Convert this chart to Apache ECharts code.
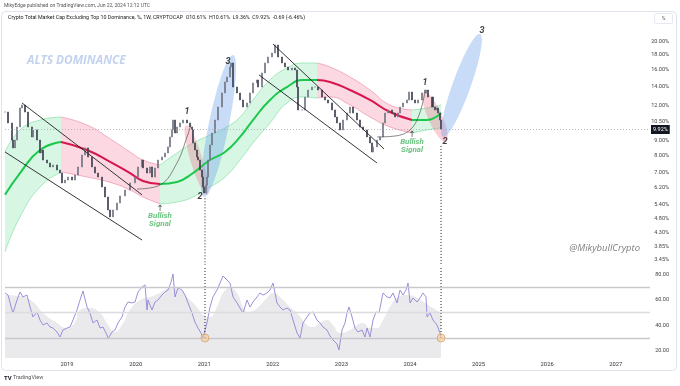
<!DOCTYPE html>
<html><head><meta charset="utf-8">
<script src="https://cdn.jsdelivr.net/npm/echarts@6/dist/echarts.min.js"></script>
<style>html,body{margin:0;padding:0;background:#fff}#c{width:680px;height:386px}</style>
</head><body><div id="c"></div>
<script>
// ---------- DATA ----------
const priceTime = [2018.095,2018.139,2018.197,2018.212,2018.241,2018.270,2018.314,2018.343,2018.387,2018.430,
2018.489,2018.503,2018.562,2018.605,2018.635,2018.649,2018.707,2018.751,2018.795,2018.853,
2018.897,2018.926,2018.970,2019.014,2019.072,2019.116,2019.159,2019.218,2019.262,2019.305,
2019.364,2019.407,2019.451,2019.509,2019.553,2019.597,2019.626,2019.670,2019.728,2019.772,
2019.845,2019.918,2019.991,2020.035,2020.093,2020.107,2020.166,2020.209,2020.238,2020.282,
2020.326,2020.384,2020.428,2020.472,2020.501,2020.530,2020.545,2020.574,2020.603,2020.647,
2020.691,2020.749,2020.793,2020.822,2020.836,2020.865,2020.895,2020.909,2020.938,2020.968,
2020.982,2020.997,2021.026,2021.040,2021.055,2021.084,2021.113,2021.157,2021.201,2021.259,
2021.303,2021.332,2021.376,2021.391,2021.420,2021.478,2021.522,2021.566,2021.624,2021.668,
2021.711,2021.770,2021.784,2021.843,2021.886,2021.930,2021.988,2022.032,2022.076,2022.134,
2022.178,2022.222,2022.280,2022.324,2022.353,2022.367,2022.426,2022.469,2022.513,2022.571,
2022.615,2022.659,2022.717,2022.761,2022.805,2022.863,2022.907,2022.936,2022.980,2023.024,
2023.082,2023.126,2023.169,2023.228,2023.272,2023.315,2023.374,2023.417,2023.447,2023.461,
2023.519,2023.563,2023.607,2023.636,2023.680,2023.738,2023.782,2023.826,2023.855,2023.899,
2023.957,2023.986,2024.030,2024.074,2024.117,2024.176,2024.220,2024.263,2024.322,2024.365,
2024.394,2024.409,2024.438,2024.453];
const priceClose = [11.37,10.41,9.07,8.51,9.07,10.08,11.75,12.03,11.37,10.08,
9.30,9.84,9.07,8.17,8.37,7.72,7.54,7.30,7.42,7.12,
6.95,6.42,6.57,6.73,6.57,6.84,7.30,8.04,8.51,7.91,
7.30,6.95,6.73,6.21,5.73,5.16,4.88,5.16,5.46,5.78,
6.06,6.42,6.73,7.30,7.72,7.24,6.95,7.30,6.73,7.24,
7.72,7.91,8.17,8.58,9.30,9.84,10.66,9.60,10.08,10.41,
10.66,10.41,10.08,9.84,8.86,8.37,7.91,7.72,7.12,6.73,
6.21,5.92,6.31,6.73,7.72,8.72,9.60,10.66,11.84,13.26,
14.49,15.08,16.35,16.89,13.91,13.26,12.53,11.84,12.23,13.26,
14.37,14.72,13.91,15.58,16.89,17.72,18.30,19.52,17.72,16.89,
16.35,15.96,16.22,15.96,13.91,11.56,11.56,12.83,13.58,13.91,
13.91,13.58,12.83,12.53,12.23,11.56,10.92,10.41,9.84,10.66,
11.28,11.84,11.28,10.66,10.08,9.84,9.30,8.86,8.24,8.58,
9.07,9.30,10.41,11.28,11.56,11.28,10.92,11.28,11.84,12.23,
12.53,13.36,12.53,12.23,12.53,13.26,13.58,12.83,11.84,11.56,
11.75,11.28,10.66,9.92];
const lastClose = 9.92;

const channelTime  = [2018.095,2018.314,2018.605,2018.912,2019.291,2019.655,2019.918,2020.107,2020.355,2020.603,2020.836,2021.084,2021.303,2021.522,2021.711,2021.959,2022.207,2022.440,2022.645,2022.834,2023.126,2023.417,2023.709,2024.030,2024.249,2024.453];
const channelUpper = [8.24,9.84,10.66,10.92,10.24,9.07,8.24,7.72,7.42,8.17,8.86,9.45,10.00,10.92,12.53,14.72,16.22,16.89,16.89,16.35,15.08,13.58,12.03,11.56,11.75,12.03];
const channelMid   = [5.83,6.95,8.37,8.93,8.37,7.54,6.95,6.52,6.36,6.47,6.95,7.72,8.24,9.30,10.66,12.53,13.91,14.72,14.72,14.49,13.58,12.53,11.37,10.66,10.66,11.28];
const channelLower = [3.68,4.88,6.21,7.01,6.73,6.42,6.06,5.73,5.42,5.50,5.73,6.21,6.73,7.72,8.86,10.41,12.23,12.83,12.73,12.83,12.03,10.92,10.08,9.60,9.84,10.00];
const channelTurns = [2018.912,2020.355,2022.645,2024.030]; // trend flips: up, down, up, down, up

const rsiTime = [2018.095,2018.139,2018.197,2018.212,2018.270,2018.314,2018.357,2018.416,2018.460,2018.503,
2018.562,2018.605,2018.649,2018.707,2018.751,2018.795,2018.853,2018.897,2018.941,2018.999,
2019.043,2019.087,2019.145,2019.189,2019.232,2019.291,2019.334,2019.378,2019.437,2019.480,
2019.524,2019.582,2019.597,2019.655,2019.699,2019.743,2019.801,2019.845,2019.889,2019.947,
2019.991,2020.035,2020.093,2020.137,2020.166,2020.180,2020.238,2020.282,2020.326,2020.384,
2020.428,2020.472,2020.516,2020.545,2020.574,2020.618,2020.676,2020.720,2020.764,2020.822,
2020.865,2020.909,2020.953,2020.982,2020.997,2021.040,2021.084,2021.128,2021.186,2021.230,
2021.274,2021.332,2021.376,2021.420,2021.478,2021.522,2021.566,2021.624,2021.668,2021.711,
2021.770,2021.813,2021.857,2021.915,2021.959,2022.003,2022.061,2022.105,2022.149,2022.207,
2022.251,2022.295,2022.353,2022.397,2022.440,2022.499,2022.542,2022.586,2022.644,2022.688,
2022.732,2022.790,2022.834,2022.878,2022.936,2022.965,2023.009,2023.053,2023.082,2023.111,
2023.155,2023.198,2023.242,2023.301,2023.344,2023.374,2023.417,2023.461,2023.505,2023.549,
2023.607,2023.665,2023.709,2023.753,2023.811,2023.855,2023.899,2023.942,2023.972,2024.001,
2024.045,2024.103,2024.147,2024.190,2024.234,2024.249,2024.292,2024.336,2024.394,2024.438,
2024.453];
const rsiValue = [65.3,63.7,52.0,49.6,59.8,66.1,62.2,63.7,54.3,46.5,
50.4,44.1,40.2,41.8,38.6,37.8,34.7,30.8,36.3,37.8,
38.6,44.1,52.0,59.8,66.9,54.3,49.6,41.8,44.1,37.8,
38.6,32.4,29.2,34.7,36.3,41.8,46.5,54.3,58.2,57.5,
58.2,66.1,70.0,71.6,52.0,59.8,52.0,58.2,59.8,63.7,
66.1,67.6,73.9,80.2,62.2,69.2,67.6,63.7,57.5,49.6,
42.5,37.8,33.9,30.0,30.8,41.8,54.3,62.2,67.6,73.1,
78.6,75.5,73.1,62.2,57.5,53.5,49.6,59.8,54.3,58.2,
62.2,65.3,63.7,65.3,67.6,73.1,57.5,54.3,52.0,53.5,
52.0,44.1,33.9,30.0,41.8,46.5,49.6,50.4,44.1,41.8,
38.6,36.3,31.6,28.4,25.3,20.6,36.3,41.8,49.6,54.3,
46.5,37.8,34.7,36.3,30.8,37.8,30.8,44.1,50.4,49.6,
65.3,62.2,61.4,65.3,57.5,67.6,63.7,67.6,73.1,57.5,
61.4,58.2,61.4,65.3,62.2,46.5,49.6,44.1,40.2,33.9,
30.8];
const rsiMaTime = [2018.095,2018.314,2018.503,2018.649,2018.853,2018.999,2019.116,2019.189,2019.334,2019.480,
2019.582,2019.699,2019.801,2019.918,2020.064,2020.209,2020.355,2020.501,2020.647,2020.749,
2020.895,2020.982,2021.084,2021.186,2021.274,2021.376,2021.478,2021.566,2021.638,2021.770,
2021.915,2022.003,2022.149,2022.251,2022.353,2022.499,2022.586,2022.688,2022.790,2022.878,
2022.980,2023.126,2023.228,2023.315,2023.417,2023.519,2023.607,2023.709,2023.811,2023.957,
2024.103,2024.220,2024.336,2024.453];
const rsiMaValue = [63.7,62.9,58.2,49.6,41.8,37.8,42.5,52.0,53.5,49.6,
41.8,34.7,40.2,52.0,59.8,62.2,65.3,69.2,67.6,62.2,
54.3,48.0,46.5,54.3,65.3,69.2,65.3,54.3,50.4,53.5,
61.4,65.3,59.8,54.3,49.6,40.2,38.6,41.8,44.1,40.2,
33.9,36.3,40.2,41.8,37.8,37.8,44.1,54.3,61.4,63.7,
61.4,57.5,53.5,49.6];
const rsiLevels = [70, 50, 30];

const priceTicks = [20, 18, 16, 14, 12, 10.5, 9, 8, 7, 6.2, 5.4, 4.8, 4.3, 3.85, 3.45];
const rsiTicks = [20, 40, 60, 80];
const yearTicks = [2019, 2020, 2021, 2022, 2023, 2024, 2025, 2026, 2027];

// drawn annotations (time, percent)
const trendLines = [
  [[2018.343, 12.23], [2020.093, 5.83]],
  [[2018.095, 8.24], [2020.093, 4.05]],
  [[2022.003, 19.68], [2023.622, 8.44]],
  [[2021.799, 15.33], [2023.519, 7.54]]
];
const arcs = [
  [[2020.020, 6.11], [2020.355, 6.31], [2020.603, 7.54], [2020.749, 9.30], [2020.807, 10.24]],
  [[2023.519, 9.30], [2023.782, 9.37], [2024.001, 9.84], [2024.132, 11.10], [2024.220, 13.36]]
];
const ellipseFrom = [[2020.734, 10.24], [2020.997, 5.73], [2024.205, 13.36], [2024.482, 9.30]];
const ellipseTo   = [[2021.041, 5.83], [2021.420, 18.01], [2024.526, 8.93], [2025.021, 21.33]];
const waveText = ['1', '2', '3', '1', '2', '3'];
const wavePos = [[2020.749, 11.37], [2020.939, 5.73], [2021.347, 17.02], [2024.220, 14.37], [2024.511, 8.93], [2025.051, 21.86]];
const signalPos = [[2020.355, 4.88], [2024.030, 8.86]];
const markerTime = [2021.011, 2024.453];
const markerTop = [5.67, 8.65];
const markerRsi = [30, 30];

// ---------- STYLE ----------
const L = Math.log;
const G = '#1cc84c', R = '#d6164c';
const GF = 'rgba(40,215,110,0.27)', RF = 'rgba(238,60,105,0.28)';
const GE = 'rgba(40,200,100,0.45)', RE = 'rgba(225,60,100,0.45)';
const X_MIN = 2018.095, X_MAX = 2027.5;
const Y_MIN = L(3.311), Y_MAX = L(22.39);
const RSI_MIN = 14.3, RSI_MAX = 84.9;
const ellipseStyle = [
  {fill: 'rgba(240,110,135,0.33)', hw: 6},
  {fill: 'rgba(110,160,235,0.38)', hw: 10},
  {fill: 'rgba(240,110,135,0.33)', hw: 7},
  {fill: 'rgba(110,160,235,0.38)', hw: 9}
];
const FONT = 'Roboto, "Open Sans", sans-serif';

const chart = echarts.init(document.getElementById('c'), null, {renderer: 'canvas', width: 680, height: 386});

const candles = priceClose.map((c, i) => {
  const o = i ? priceClose[i - 1] : c;
  return [priceTime[i], L(o), L(c), L(Math.min(o, c)), L(Math.max(o, c))];
});

// split the channel at its turning points
const segments = [];
let cur = [];
channelTime.forEach((t, i) => {
  cur.push(i);
  if (channelTurns.indexOf(t) >= 0) { segments.push(cur); cur = [i]; }
});
segments.push(cur);

const series = [];
segments.forEach((idx, s) => {
  const up = s % 2 === 0;
  series.push({type: 'line', xAxisIndex: 0, yAxisIndex: 0, smooth: 0.5, symbol: 'none', silent: true, z: 1,
    data: idx.map(i => [channelTime[i], L(channelUpper[i])]),
    lineStyle: {width: 0.8, color: up ? GE : RE}, areaStyle: {color: up ? GF : RF, origin: 'start'}});
  series.push({type: 'line', xAxisIndex: 0, yAxisIndex: 0, smooth: 0.5, symbol: 'none', silent: true, z: 2,
    data: idx.map(i => [channelTime[i], L(channelLower[i])]),
    lineStyle: {width: 0.8, color: up ? GE : RE}, areaStyle: {color: '#ffffff', opacity: 1, origin: 'start'}});
  series.push({type: 'line', xAxisIndex: 0, yAxisIndex: 0, smooth: 0.5, symbol: 'none', silent: true, z: 3,
    data: idx.map(i => [channelTime[i], L(channelMid[i])]),
    lineStyle: {width: 2, color: up ? G : R}});
});
// ellipses
series.push({type: 'custom', xAxisIndex: 0, yAxisIndex: 0, z: 3, silent: true,
  encode: {x: [0, 2], y: [1, 3]},
  data: ellipseFrom.map((f, i) => [f[0], L(f[1]), ellipseTo[i][0], L(ellipseTo[i][1])]),
  renderItem: function (params, api) {
    const p1 = api.coord([api.value(0), api.value(1)]);
    const p2 = api.coord([api.value(2), api.value(3)]);
    const st = ellipseStyle[params.dataIndex];
    const cx = (p1[0] + p2[0]) / 2, cy = (p1[1] + p2[1]) / 2;
    const dx = p2[0] - p1[0], dy = p2[1] - p1[1];
    const len = Math.hypot(dx, dy), ux = dx / len, uy = dy / len, nx = -uy, ny = ux;
    const rx = len / 2, pts = [];
    for (let k = 0; k < 60; k++) {
      const a = k / 60 * Math.PI * 2;
      pts.push([cx + ux * rx * Math.cos(a) + nx * st.hw * Math.sin(a), cy + uy * rx * Math.cos(a) + ny * st.hw * Math.sin(a)]);
    }
    return {type: 'polygon', shape: {points: pts}, style: {fill: st.fill}};
  }});
// candles
series.push({type: 'candlestick', xAxisIndex: 0, yAxisIndex: 0, z: 4, barWidth: 2.4,
  encode: {x: 0, y: [1, 2, 3, 4]},
  data: candles,
  itemStyle: {color: '#737784', color0: '#3f4351', borderColor: '#737784', borderColor0: '#3f4351', borderWidth: 0.7},
  markLine: {symbol: 'none', silent: true,
    data: [{yAxis: L(lastClose)}],
    lineStyle: {type: [1, 2], color: '#a5a8b0', width: 0.8},
    label: {position: 'end', formatter: lastClose.toFixed(2) + '%', backgroundColor: '#131722', color: '#fff',
      fontSize: 5.5, padding: [2, 2, 1, 2], distance: 1, fontFamily: FONT}}});
// trend lines
trendLines.forEach(tl => series.push({type: 'line', xAxisIndex: 0, yAxisIndex: 0, z: 5, symbol: 'none', silent: true,
  data: tl.map(p => [p[0], L(p[1])]), lineStyle: {color: '#1f1f1f', width: 0.9}}));
// arcs
arcs.forEach(a => series.push({type: 'line', xAxisIndex: 0, yAxisIndex: 0, z: 5, symbol: 'none', silent: true, smooth: 0.4,
  data: a.map(p => [p[0], L(p[1])]), lineStyle: {color: '#555', width: 0.7}}));
// dotted markers, price pane
markerTime.forEach((t, i) => series.push({type: 'line', xAxisIndex: 0, yAxisIndex: 0, z: 5, symbol: 'none', silent: true,
  data: [[t, L(markerTop[i])], [t, Y_MIN]], lineStyle: {color: '#222', width: 1, type: [1, 2]}}));
// wave labels
series.push({type: 'scatter', xAxisIndex: 0, yAxisIndex: 0, z: 6, symbolSize: 1, itemStyle: {color: 'rgba(0,0,0,0)'}, silent: true,
  data: wavePos.map((p, i) => ({value: [p[0], L(p[1])], name: waveText[i]})),
  label: {show: true, position: 'inside', formatter: '{b}', fontSize: 9, fontWeight: 'bold', fontStyle: 'italic', color: '#111', fontFamily: FONT}});
// bullish signal labels
series.push({type: 'scatter', xAxisIndex: 0, yAxisIndex: 0, z: 6, symbolSize: 1, itemStyle: {color: 'rgba(0,0,0,0)'}, silent: true,
  data: signalPos.map(p => [p[0], L(p[1])]),
  label: {show: true, position: 'inside', formatter: '{a|↑}\n{b|Bullish}\n{b|Signal}',
    rich: {a: {fontSize: 8.5, color: '#111', lineHeight: 7, align: 'center', fontFamily: '"DejaVu Sans", sans-serif'},
           b: {fontSize: 8, fontStyle: 'italic', fontWeight: 'bold', color: '#47b462', lineHeight: 8, align: 'center', fontFamily: FONT}}}});
// RSI MA area with level lines
series.push({type: 'line', xAxisIndex: 1, yAxisIndex: 1, z: 1, smooth: 0.5, symbol: 'none', silent: true,
  data: rsiMaTime.map((t, i) => [t, rsiMaValue[i]]),
  lineStyle: {width: 0}, areaStyle: {color: '#eaeaed', opacity: 1, origin: 'start'},
  markLine: {symbol: 'none', silent: true, label: {show: false},
    data: rsiLevels.map(v => ({yAxis: v, lineStyle: {color: v === 50 ? '#dcdce0' : '#c9c9cd', width: 1.3, type: 'solid'}}))}});
// RSI line
const rsiIdx = series.length;
series.push({type: 'line', xAxisIndex: 1, yAxisIndex: 1, z: 3, symbol: 'none', silent: true,
  data: rsiTime.map((t, i) => [t, rsiValue[i]]), lineStyle: {width: 0.9, color: '#8f84d6'}});
// dotted markers RSI pane
markerTime.forEach((t, i) => series.push({type: 'line', xAxisIndex: 1, yAxisIndex: 1, z: 4, symbol: 'none', silent: true,
  data: [[t, RSI_MAX], [t, markerRsi[i]]], lineStyle: {color: '#222', width: 1, type: [1, 2]}}));
// circles
series.push({type: 'scatter', xAxisIndex: 1, yAxisIndex: 1, z: 5, symbolSize: 8, silent: true,
  data: markerTime.map((t, i) => [t, markerRsi[i]]),
  itemStyle: {color: 'rgba(246,200,150,0.75)', borderColor: '#d9a56a', borderWidth: 1}});

const option = {
  animation: false,
  backgroundColor: '#fff',
  textStyle: {fontFamily: FONT},
  grid: [
    {left: 5, right: 30, top: 28, height: 237},
    {left: 5, right: 30, top: 268, height: 90}
  ],
  xAxis: [
    {type: 'value', gridIndex: 0, min: X_MIN, max: X_MAX, axisLine: {show: false}, axisTick: {show: false},
     axisLabel: {show: false}, splitLine: {show: false}},
    {type: 'value', gridIndex: 1, min: X_MIN, max: X_MAX, axisLine: {show: false}, axisTick: {show: false},
     splitLine: {show: false},
     axisLabel: {customValues: yearTicks, formatter: v => String(Math.round(v)), fontSize: 5.8, color: '#333', margin: 4, fontFamily: FONT}}
  ],
  yAxis: [
    {type: 'value', gridIndex: 0, position: 'right', min: Y_MIN, max: Y_MAX, axisLine: {show: false}, axisTick: {show: false},
     splitLine: {show: false},
     axisLabel: {customValues: priceTicks.map(v => L(v)), formatter: v => Math.exp(v).toFixed(2) + '%',
       fontSize: 5.5, color: '#444', align: 'right', margin: 19, fontFamily: FONT}},
    {type: 'value', gridIndex: 1, position: 'right', min: RSI_MIN, max: RSI_MAX, axisLine: {show: false}, axisTick: {show: false},
     splitLine: {show: false},
     axisLabel: {customValues: rsiTicks, formatter: v => v.toFixed(2), fontSize: 5.5, color: '#444', align: 'right', margin: 19, fontFamily: FONT}}
  ],
  visualMap: [
    {type: 'piecewise', show: false, seriesIndex: rsiIdx, dimension: 1,
     pieces: [{gte: 0, lt: 30, color: '#ec5d7c'}, {gte: 30, lte: 100, color: '#8f84d6'}]}
  ],
  graphic: [
    {type: 'rect', z: -10, shape: {x: 1.5, y: 11.5, width: 675, height: 359, r: 4}, style: {fill: 'none', stroke: '#e0e3eb', lineWidth: 1}},
    {type: 'text', x: 4, y: 6, style: {text: 'MikyEdge published on TradingView.com, Jun 22, 2024 12:12 UTC', font: '5px ' + FONT, fill: '#555', verticalAlign: 'middle'}},
    {type: 'text', x: 8, y: 18, style: {text: 'Crypto Total Market Cap Excluding Top 10 Dominance, %, 1W, CRYPTOCAP  O10.61%  H10.61%  L9.36%  C9.92%  -0.69 (-6.46%)', font: '5.3px ' + FONT, fill: '#222', verticalAlign: 'middle'}},
    {type: 'rect', shape: {x: 654.5, y: 13.5, width: 18, height: 10, r: 1}, style: {fill: '#fff', stroke: '#e0e3eb', lineWidth: 0.8}},
    {type: 'text', x: 663.5, y: 18.5, style: {text: '%', font: '5px ' + FONT, fill: '#555', align: 'center', verticalAlign: 'middle'}},
    {type: 'text', x: 27, y: 61, z: 10, style: {text: 'ALTS DOMINANCE', font: 'italic bold 11.8px "Open Sans", sans-serif', fill: '#c3d3ee', verticalAlign: 'middle'}},
    {type: 'text', x: 640, y: 248, z: 10, style: {text: '@MikybullCrypto', font: 'italic 9.5px "Open Sans", sans-serif', fill: '#7f7f7f', align: 'right', verticalAlign: 'middle'}},
    {type: 'text', x: 4, y: 378, style: {text: 'TV', font: 'bold 6px ' + FONT, fill: '#131722', verticalAlign: 'middle'}},
    {type: 'text', x: 13, y: 378, style: {text: 'TradingView', font: '5.5px ' + FONT, fill: '#555', verticalAlign: 'middle'}}
  ],
  series: series
};
chart.setOption(option);
</script>
</body></html>
